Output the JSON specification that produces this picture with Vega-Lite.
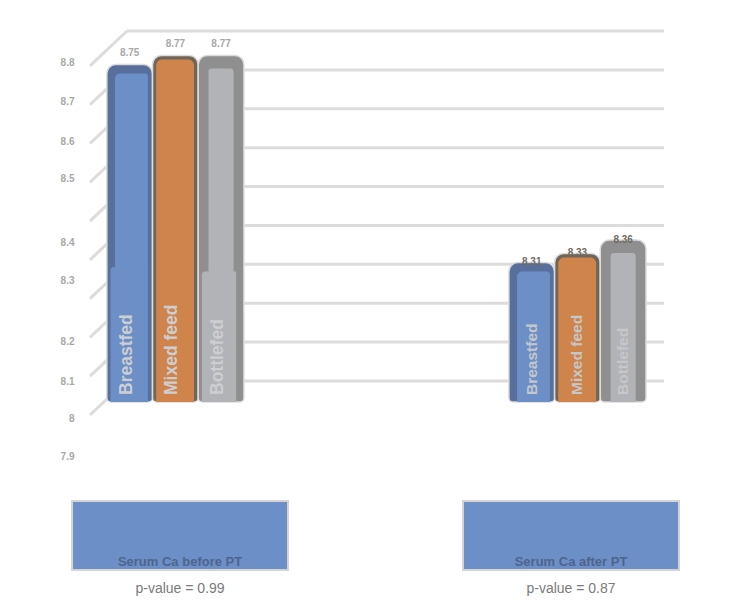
{
"$schema":"https://vega.github.io/schema/vega-lite/v6.json",
"width":737,"height":613,"padding":0,"autosize":"none","background":"white",
"view":{"stroke":null},
"datasets":{
"bars":[
{"group":"Serum Ca before PT","series":"Breastfed","value":8.75},
{"group":"Serum Ca before PT","series":"Mixed feed","value":8.77},
{"group":"Serum Ca before PT","series":"Bottlefed","value":8.77},
{"group":"Serum Ca after PT","series":"Breastfed","value":8.31},
{"group":"Serum Ca after PT","series":"Mixed feed","value":8.33},
{"group":"Serum Ca after PT","series":"Bottlefed","value":8.36}],
"shoulders":[
{"group":"Serum Ca before PT","series":"Breastfed","value":8.3},
{"group":"Serum Ca before PT","series":"Bottlefed","value":8.29}],
"levels":[{"level":0,"back":0.9},{"level":1,"back":1.9},{"level":2,"back":2.9},{"level":3,"back":3.9},{"level":4,"back":4.9},{"level":5,"back":5.9},{"level":6,"back":6.9},{"level":7,"back":7.9},{"level":8,"back":8.9},{"level":9,"back":9.9}],
"ticks":[{"v":7.9},{"v":8.0},{"v":8.1},{"v":8.2},{"v":8.3},{"v":8.4},{"v":8.5},{"v":8.6},{"v":8.7},{"v":8.8}],
"captions":[
{"group":"Serum Ca before PT","p":"p-value = 0.99"},
{"group":"Serum Ca after PT","p":"p-value = 0.87"}]
},
"resolve":{"scale":{"x":"independent","y":"independent","xOffset":"independent","color":"independent"},"axis":{"x":"independent","y":"independent"}},
"layer":[
{"data":{"name":"levels"},"mark":{"type":"rule","color":"#dcdcdc","strokeWidth":3},
 "encoding":{
 "x":{"datum":37,"type":"quantitative","scale":{"domain":[0,574],"range":[90,664]},"axis":null},
 "x2":{"datum":574},
 "y":{"field":"level","type":"quantitative","scale":{"domain":[0,9],"range":[381,31],"nice":false,"zero":false},"axis":null}}},
{"data":{"name":"levels"},"mark":{"type":"rule","color":"#dcdcdc","strokeWidth":3},
 "encoding":{
 "x":{"datum":0,"type":"quantitative","scale":{"domain":[0,574],"range":[90,664]},"axis":null},
 "x2":{"datum":37},
 "y":{"field":"level","type":"quantitative","scale":{"domain":[0,9.9],"range":[415,31],"nice":false,"zero":false},"axis":null},
 "y2":{"field":"back"}}},
{"data":{"name":"ticks"},"mark":{"type":"rule","opacity":0},
 "encoding":{
 "y":{"field":"v","type":"quantitative","scale":{"domain":[7.9,8.0,8.1,8.2,8.3,8.4,8.5,8.6,8.7,8.8],"range":[456,418,381,341,280,242,178,141,101,62],"zero":false,"nice":false},
 "axis":{"title":null,"values":[7.9,8.0,8.1,8.2,8.3,8.4,8.5,8.6,8.7,8.8],"format":".1~f","domain":false,"ticks":false,"grid":false,"offset":-74,"labelPadding":0,"labelOverlap":false,"labelBound":false,"labelFlush":false,"labelFont":"Liberation Sans","labelFontWeight":"bold","labelFontSize":10,"labelColor":"#a8a8a8"}}}},
{"data":{"name":"bars"},"mark":{"type":"bar","stroke":"#dcdcdc","strokeWidth":1.5,"cornerRadiusTopLeft":9,"cornerRadiusTopRight":9,"cornerRadiusBottomLeft":4,"cornerRadiusBottomRight":4},
 "encoding":{
 "x":{"field":"group","type":"nominal","axis":null,"sort":null,"scale":{"domain":["Serum Ca before PT","Serum Ca after PT"],"paddingInner":0.659,"paddingOuter":0.246,"align":0.54}},
 "xOffset":{"field":"series","type":"nominal","sort":null,"scale":{"domain":["Breastfed","Mixed feed","Bottlefed"],"paddingInner":0,"paddingOuter":0}},
 "y":{"field":"value","type":"quantitative","axis":null,"scale":{"domain":[8,8.8933],"range":[402,0],"zero":false,"nice":false}},
 "y2":{"datum":8},
 "color":{"field":"series","type":"nominal","legend":null,"scale":{"domain":["Breastfed","Mixed feed","Bottlefed"],"range":["#586f9c","#6f6558","#8f8f8f"]}}}},
{"data":{"name":"bars"},"transform":[{"filter":"datum.series==='Breastfed'"}],"mark":{"type":"bar","color":"#6c8fc7","width":{"band":0.72},"yOffset":9,"y2Offset":0,"cornerRadiusTopLeft":5,"cornerRadiusTopRight":3},
 "encoding":{
 "x":{"field":"group","type":"nominal","axis":null,"sort":null,"scale":{"domain":["Serum Ca before PT","Serum Ca after PT"],"paddingInner":0.659,"paddingOuter":0.246,"align":0.54}},
 "xOffset":{"field":"series","type":"nominal","sort":null,"scale":{"domain":["Breastfed","Mixed feed","Bottlefed"],"range":[-11,126],"paddingInner":0,"paddingOuter":0}},
 "y":{"field":"value","type":"quantitative","axis":null,"scale":{"domain":[8,8.8933],"range":[402,0],"zero":false,"nice":false}},
 "y2":{"datum":8}}},
{"data":{"name":"bars"},"transform":[{"filter":"datum.series==='Mixed feed'"}],"mark":{"type":"bar","color":"#ce844b","width":{"band":0.83},"yOffset":4,"y2Offset":0,"cornerRadiusTopLeft":6,"cornerRadiusTopRight":6},
 "encoding":{
 "x":{"field":"group","type":"nominal","axis":null,"sort":null,"scale":{"domain":["Serum Ca before PT","Serum Ca after PT"],"paddingInner":0.659,"paddingOuter":0.246,"align":0.54}},
 "xOffset":{"field":"series","type":"nominal","sort":null,"scale":{"domain":["Breastfed","Mixed feed","Bottlefed"],"range":[-8,129],"paddingInner":0,"paddingOuter":0}},
 "y":{"field":"value","type":"quantitative","axis":null,"scale":{"domain":[8,8.8933],"range":[402,0],"zero":false,"nice":false}},
 "y2":{"datum":8}}},
{"data":{"name":"bars"},"transform":[{"filter":"datum.series==='Bottlefed'"}],"mark":{"type":"bar","color":"#b2b3b6","width":{"band":0.55},"yOffset":13,"y2Offset":0,"cornerRadiusTopLeft":3,"cornerRadiusTopRight":3},
 "encoding":{
 "x":{"field":"group","type":"nominal","axis":null,"sort":null,"scale":{"domain":["Serum Ca before PT","Serum Ca after PT"],"paddingInner":0.659,"paddingOuter":0.246,"align":0.54}},
 "xOffset":{"field":"series","type":"nominal","sort":null,"scale":{"domain":["Breastfed","Mixed feed","Bottlefed"],"range":[-20.5,116.5],"paddingInner":0,"paddingOuter":0}},
 "y":{"field":"value","type":"quantitative","axis":null,"scale":{"domain":[8,8.8933],"range":[402,0],"zero":false,"nice":false}},
 "y2":{"datum":8}}},
{"data":{"name":"shoulders"},"mark":{"type":"bar","width":{"band":0.75},"cornerRadiusTopLeft":3},
 "encoding":{
 "x":{"field":"group","type":"nominal","axis":null,"sort":null,"scale":{"domain":["Serum Ca before PT","Serum Ca after PT"],"paddingInner":0.659,"paddingOuter":0.246,"align":0.54}},
 "xOffset":{"field":"series","type":"nominal","sort":null,"scale":{"domain":["Breastfed","Mixed feed","Bottlefed"],"range":[-13.4,123.6],"paddingInner":0,"paddingOuter":0}},
 "y":{"field":"value","type":"quantitative","axis":null,"scale":{"domain":[8,8.8933],"range":[402,0],"zero":false,"nice":false}},
 "y2":{"datum":8},
 "color":{"field":"series","type":"nominal","legend":null,"scale":{"domain":["Breastfed","Bottlefed"],"range":["#6c8fc7","#b2b3b6"]}}}},
{"data":{"name":"bars"},"transform":[{"filter":"datum.group==='Serum Ca before PT'"}],"mark":{"type":"text","angle":270,"align":"left","baseline":"middle","dx":7,"dy":-3,"font":"Liberation Sans","fontWeight":"bold","fontSize":17.5,"color":"#cdced2"},
 "encoding":{
 "x":{"field":"group","type":"nominal","axis":null,"sort":null,"scale":{"domain":["Serum Ca before PT","Serum Ca after PT"],"paddingInner":0.659,"paddingOuter":0.246,"align":0.54}},
 "xOffset":{"field":"series","type":"nominal","sort":null,"scale":{"type":"point","domain":["Breastfed","Mixed feed","Bottlefed"],"padding":0.5}},
 "y":{"datum":8,"type":"quantitative","axis":null,"scale":{"domain":[8,8.8933],"range":[402,0],"zero":false,"nice":false}},
 "text":{"field":"series"}}},
{"data":{"name":"bars"},"transform":[{"filter":"datum.group==='Serum Ca after PT'"}],"mark":{"type":"text","angle":270,"align":"left","baseline":"middle","dx":7,"font":"Liberation Sans","fontWeight":"bold","fontSize":15.5,"color":"#c6c7ca"},
 "encoding":{
 "x":{"field":"group","type":"nominal","axis":null,"sort":null,"scale":{"domain":["Serum Ca before PT","Serum Ca after PT"],"paddingInner":0.659,"paddingOuter":0.246,"align":0.54}},
 "xOffset":{"field":"series","type":"nominal","sort":null,"scale":{"type":"point","domain":["Breastfed","Mixed feed","Bottlefed"],"padding":0.5}},
 "y":{"datum":8,"type":"quantitative","axis":null,"scale":{"domain":[8,8.8933],"range":[402,0],"zero":false,"nice":false}},
 "text":{"field":"series"}}},
{"data":{"name":"bars"},"transform":[{"filter":"datum.group==='Serum Ca before PT'"}],"mark":{"type":"text","dy":-6,"baseline":"bottom","font":"Liberation Sans","fontWeight":"bold","fontSize":10,"color":"#a8a8a8"},
 "encoding":{
 "x":{"field":"group","type":"nominal","axis":null,"sort":null,"scale":{"domain":["Serum Ca before PT","Serum Ca after PT"],"paddingInner":0.659,"paddingOuter":0.246,"align":0.54}},
 "xOffset":{"field":"series","type":"nominal","sort":null,"scale":{"type":"point","domain":["Breastfed","Mixed feed","Bottlefed"],"padding":0.5}},
 "y":{"field":"value","type":"quantitative","axis":null,"scale":{"domain":[8,8.8933],"range":[402,0],"zero":false,"nice":false}},
 "text":{"field":"value","format":".2f"}}},
{"data":{"name":"bars"},"transform":[{"filter":"datum.group==='Serum Ca after PT'"}],"mark":{"type":"text","dy":5,"baseline":"bottom","font":"Liberation Sans","fontWeight":"bold","fontSize":10,"color":"#6f6a62"},
 "encoding":{
 "x":{"field":"group","type":"nominal","axis":null,"sort":null,"scale":{"domain":["Serum Ca before PT","Serum Ca after PT"],"paddingInner":0.659,"paddingOuter":0.246,"align":0.54}},
 "xOffset":{"field":"series","type":"nominal","sort":null,"scale":{"type":"point","domain":["Breastfed","Mixed feed","Bottlefed"],"padding":0.5}},
 "y":{"field":"value","type":"quantitative","axis":null,"scale":{"domain":[8,8.8933],"range":[402,0],"zero":false,"nice":false}},
 "text":{"field":"value","format":".2f"}}},
{"data":{"name":"captions"},"mark":{"type":"bar","color":"#6c8fc7","stroke":"#d4d4d4","strokeWidth":2},
 "encoding":{
 "x":{"field":"group","type":"nominal","axis":null,"sort":null,"scale":{"domain":["Serum Ca before PT","Serum Ca after PT"],"paddingInner":0.4476,"paddingOuter":0.1663,"align":0.554}},
 "y":{"datum":0,"type":"quantitative","axis":null,"scale":{"domain":[0,1],"range":[570,501],"zero":false,"nice":false}},
 "y2":{"datum":1}}},
{"data":{"name":"captions"},"mark":{"type":"text","dy":-8,"baseline":"middle","font":"Liberation Sans","fontWeight":"bold","fontSize":13,"color":"#4f648c"},
 "encoding":{
 "x":{"field":"group","type":"nominal","axis":null,"sort":null,"scale":{"type":"band","domain":["Serum Ca before PT","Serum Ca after PT"],"paddingInner":0.4476,"paddingOuter":0.1663,"align":0.554}},
 "y":{"datum":0,"type":"quantitative","axis":null,"scale":{"domain":[0,1],"range":[570,501],"zero":false,"nice":false}},
 "text":{"field":"group"}}},
{"data":{"name":"captions"},"mark":{"type":"text","dy":19,"baseline":"middle","font":"Liberation Sans","fontSize":14,"color":"#7a7a7a"},
 "encoding":{
 "x":{"field":"group","type":"nominal","axis":null,"sort":null,"scale":{"type":"band","domain":["Serum Ca before PT","Serum Ca after PT"],"paddingInner":0.4476,"paddingOuter":0.1663,"align":0.554}},
 "y":{"datum":0,"type":"quantitative","axis":null,"scale":{"domain":[0,1],"range":[570,501],"zero":false,"nice":false}},
 "text":{"field":"p"}}}
]
}
